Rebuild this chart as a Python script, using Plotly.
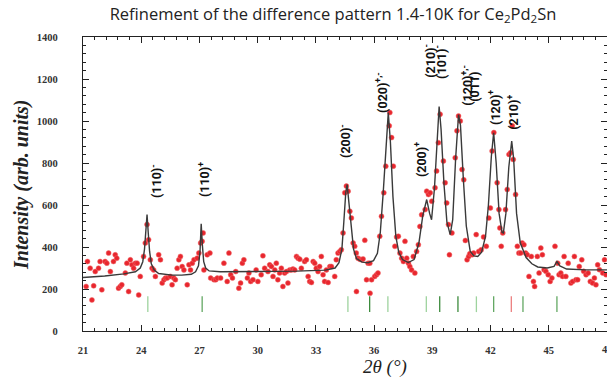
import plotly.graph_objects as go

# ---------------- data ----------------
obs_x = [21.16, 21.23, 21.37, 21.46, 21.55, 21.63, 21.80, 21.88, 21.97, 22.14, 22.23, 22.32, 22.41, 22.57,
         22.66, 22.74, 22.83, 22.92, 23.00, 23.18, 23.26, 23.35, 23.44, 23.52, 23.61, 23.70, 23.79, 23.87,
         23.95, 24.12, 24.21, 24.30, 24.38, 24.47, 24.56, 24.64, 24.73, 24.90, 24.99, 25.08, 25.17, 25.25,
         25.34, 25.50, 25.59, 25.68, 25.76, 25.85, 25.94, 26.02, 26.11, 26.20, 26.37, 26.46, 26.54, 26.63,
         26.72, 26.88, 26.97, 27.06, 27.14, 27.19, 27.23, 27.40, 27.54, 27.58, 27.75, 27.84, 27.92, 28.09,
         28.26, 28.43, 28.52, 28.61, 28.70, 28.87, 29.03, 29.12, 29.21, 29.29, 29.47, 29.55, 29.64,
         29.76, 29.92, 30.01, 30.18, 30.27, 30.36, 30.53, 30.62, 30.71, 30.79, 30.88, 30.96, 31.04, 31.13,
         31.22, 31.30, 31.39, 31.48, 31.56, 31.65, 31.74, 31.82, 31.91, 32.00, 32.08, 32.17, 32.25, 32.42,
         32.51, 32.60, 32.68, 32.77, 32.86, 32.94, 33.02, 33.11, 33.19, 33.28, 33.37, 33.45, 33.54, 33.63,
         33.72, 33.80, 33.97, 34.05, 34.14, 34.23, 34.31, 34.40, 34.49, 34.57, 34.66, 34.75, 34.83, 34.92,
         35.00, 35.08, 35.09, 35.17, 35.26, 35.35, 35.43, 35.52, 35.61, 35.69, 35.78, 35.79, 35.87, 36.03,
         36.12, 36.20, 36.29, 36.38, 36.50, 36.60, 36.78, 36.81, 36.90, 36.99, 37.07, 37.16, 37.25, 37.33,
         37.42, 37.51, 37.59, 37.68, 37.77, 37.84, 37.93, 38.02, 38.10, 38.19, 38.28, 38.36, 38.45, 38.63,
         38.71, 38.80, 38.89, 38.97, 39.14, 39.22, 39.31, 39.40, 39.57, 39.66, 39.74, 39.83, 39.88, 40.01,
         40.18, 40.27, 40.35, 40.44, 40.53, 40.62, 40.70, 40.79, 40.87, 40.93, 41.05, 41.13, 41.26, 41.39,
         41.52, 41.64, 41.78, 41.91, 41.99, 42.08, 42.17, 42.34, 42.43, 42.48, 42.55, 42.63, 42.77, 42.86,
         42.95, 43.03, 43.12, 43.17, 43.29, 43.38, 43.46, 43.55, 43.63, 43.72, 43.81, 43.89, 43.98, 44.10,
         44.21, 44.27, 44.41, 44.50, 44.59, 44.67, 44.76, 44.85, 44.97, 45.07, 45.16, 45.32, 45.46, 45.53,
         45.62, 45.71, 45.79, 45.88, 46.00, 46.14, 46.23, 46.32, 46.40, 46.49, 46.57, 46.70, 46.80, 46.92,
         47.03, 47.14, 47.26, 47.35, 47.43, 47.52, 47.61, 47.78, 47.87, 47.95]
obs_y = [212, 331, 299, 148, 215, 283, 299, 331, 196, 331, 323, 371, 283, 331,
         363, 347, 204, 212, 220, 276, 323, 188, 339, 315, 299, 323, 323, 172,
         260, 355, 419, 507, 435, 339, 299, 291, 260, 363, 339, 228, 244, 252,
         252, 260, 220, 252, 244, 299, 339, 355, 307, 291, 220, 315, 291, 323,
         339, 347, 371, 419, 427, 467, 291, 363, 371, 252, 244, 244, 252, 252,
         323, 236, 371, 268, 252, 283, 204, 228, 323, 339, 252, 276, 236,
         244, 291, 236, 268, 358, 299, 283, 315, 307, 260, 291, 323, 244, 276,
         299, 212, 276, 283, 228, 291, 291, 295, 291, 355, 347, 342, 299, 331,
         339, 260, 236, 231, 331, 323, 299, 283, 307, 355, 268, 236, 291, 231,
         307, 307, 260, 339, 371, 379, 387, 467, 658, 690, 666, 570, 538, 419,
         403, 371, 188, 347, 342, 339, 343, 432, 244, 323, 323, 180, 244, 260,
         268, 276, 451, 546, 658, 785, 977, 1040, 921, 785, 403, 448, 451, 371,
         347, 331, 427, 347, 323, 307, 291, 355, 276, 379, 411, 498, 554, 578,
         666, 650, 658, 618, 682, 762, 897, 1032, 809, 706, 610, 507, 363, 467,
         825, 953, 1024, 1000, 769, 720, 431, 339, 355, 368, 363, 371, 459, 379,
         387, 448, 403, 538, 586, 857, 945, 706, 578, 491, 403, 467, 578, 674,
         841, 849, 977, 817, 650, 403, 371, 371, 419, 411, 371, 363, 260, 355,
         236, 212, 355, 276, 395, 363, 292, 284, 268, 236, 252, 403, 323, 268,
         276, 260, 355, 260, 323, 228, 236, 355, 244, 244, 307, 339, 284, 268,
         276, 236, 228, 252, 220, 315, 292, 276, 339, 268]

calc_x = [21.0, 22.12, 23.11, 23.70, 23.95, 24.08, 24.17, 24.24, 24.30, 24.36, 24.43, 24.52, 24.67, 24.90,
          25.59, 26.09, 26.58, 26.80, 26.95, 27.03, 27.09, 27.15, 27.22, 27.32, 27.50, 28.07, 30.03, 32.01,
          33.49, 33.99, 34.19, 34.34, 34.44, 34.54, 34.61, 34.69, 34.79, 34.94, 35.09, 35.38, 35.68, 35.97,
          36.17, 36.32, 36.47, 36.62, 36.73, 36.84, 36.97, 37.12, 37.27, 37.46, 37.76, 38.06, 38.31, 38.51,
          38.71, 38.86, 38.96, 39.11, 39.25, 39.35, 39.45, 39.60, 39.75, 39.92, 40.05, 40.20, 40.35, 40.45,
          40.60, 40.75, 40.95, 41.14, 41.34, 41.54, 41.74, 41.89, 42.04, 42.16, 42.29, 42.44, 42.59, 42.66,
          42.79, 42.94, 43.09, 43.19, 43.34, 43.53, 43.83, 44.13, 44.43, 44.92, 45.27, 45.42, 45.57, 45.92,
          46.91, 48.0]
calc_y = [255, 262, 272, 282, 300, 330, 390, 470, 554, 470, 380, 320, 290, 274,
          266, 266, 270, 282, 310, 380, 510, 410, 330, 300, 286, 282, 283, 285,
          290, 300, 325, 390, 520, 660, 697, 620, 500, 390, 345, 328, 325, 335,
          370, 470, 660, 900, 1040, 900, 640, 450, 375, 340, 326, 340, 420, 550,
          626, 560, 530, 680, 950, 1069, 960, 700, 520, 459, 530, 820, 1030, 980,
          720, 500, 380, 358, 355, 375, 450, 600, 830, 944, 800, 560, 470, 467,
          560, 780, 904, 820, 560, 420, 350, 320, 305, 300, 308, 331, 310, 295,
          291, 291]

refl_pos = [24.34, 27.14, 34.65, 35.77, 36.71, 38.69, 39.38, 40.32, 41.27, 42.16, 43.07, 43.67, 45.42]
refl_kind = ["light", "mid", "light", "dark", "light", "light", "dark", "dark", "light", "mid", "red", "mid", "mid"]
refl_low, refl_high = 90, 165

label_text = ["(110)<sup>-</sup>", "(110)<sup>+</sup>", "(200)<sup>-</sup>", "(020)<sup>+,-</sup>",
              "(200)<sup>+</sup>", "(210)<sup>-</sup>", "(101)<sup>-</sup>", "(120)<sup>+,-</sup>",
              "(011)", "(120)<sup>+</sup>", "(210)<sup>+</sup>"]
label_x = [24.79, 27.21, 34.53, 36.39, 38.40, 38.86, 39.43, 40.77, 41.18, 42.21, 43.14]
label_y = [712, 721, 903, 1137, 817, 1285, 1280, 1171, 1161, 1065, 1042]

x_ticks = [21, 24, 27, 30, 33, 36, 39, 42, 45, 48]
y_ticks = [0, 200, 400, 600, 800, 1000, 1200, 1400]

refl_colors = {"light": "#9ed39e", "mid": "#63a863", "dark": "#3d8b3d", "red": "#ec7f7f"}

# ---------------- figure ----------------
fig = go.Figure()

for kind, col in refl_colors.items():
    xs, ys = [], []
    for p, k in zip(refl_pos, refl_kind):
        if k == kind:
            xs += [p, p, None]
            ys += [refl_low, refl_high, None]
    fig.add_trace(go.Scatter(x=xs, y=ys, mode="lines", line=dict(color=col, width=1.3),
                             hoverinfo="skip", showlegend=False))

fig.add_trace(go.Scatter(x=obs_x, y=obs_y, mode="markers",
                         marker=dict(color="#e8262e", size=5, line=dict(color="#f06a6a", width=0.5)),
                         showlegend=False))
fig.add_trace(go.Scatter(x=calc_x, y=calc_y, mode="lines",
                         line=dict(color="#3a3a3a", width=1.4), showlegend=False))

for t, x, y in zip(label_text, label_x, label_y):
    fig.add_annotation(x=x, y=y, xref="x", yref="y", text=t, showarrow=False, textangle=-90,
                       xanchor="center", yanchor="middle",
                       font=dict(family="Roboto", size=12.5, color="#111111", weight="bold"))

tickfont = dict(family="Liberation Serif", size=10.5, color="#333333", weight="bold")

fig.update_xaxes(range=[21, 48], tickvals=x_ticks, ticktext=[str(v) for v in x_ticks],
                 ticks="inside", ticklen=6, tickwidth=1.2, tickcolor="#222",
                 showline=True, linecolor="#222", linewidth=1.2, mirror="allticks",
                 showgrid=False, zeroline=False, tickfont=tickfont, ticklabelstandoff=9,
                 minor=dict(ticks="inside", ticklen=3, dtick=0.6, tick0=21, tickcolor="#222", showgrid=False))
fig.update_yaxes(range=[0, 1400], tickvals=y_ticks, ticktext=[str(v) for v in y_ticks],
                 ticks="inside", ticklen=6, tickwidth=1.2, tickcolor="#222",
                 showline=True, linecolor="#222", linewidth=1.2, mirror="allticks",
                 showgrid=False, zeroline=False, tickfont=tickfont, ticklabelstandoff=22,
                 minor=dict(ticks="inside", ticklen=3, dtick=40, tick0=0, tickcolor="#222", showgrid=False))

# last x tick label sits on the window edge
fig.add_annotation(x=48, y=-0.062, xref="x", yref="paper", text="48", showarrow=False,
                   xanchor="center", yanchor="middle", font=tickfont)

fig.add_annotation(x=-0.1164, y=0.4966, xref="paper", yref="paper", showarrow=False, textangle=-90,
                   text="<b><i>Intensity (arb. units)</i></b>", xanchor="center", yanchor="middle",
                   font=dict(family="Liberation Serif", size=20, color="#222"))
fig.add_annotation(x=0.576, y=-0.1224, xref="paper", yref="paper", showarrow=False,
                   text="<i>2θ (°)</i>", xanchor="center", yanchor="middle",
                   font=dict(family="Liberation Serif", size=19, color="#222"))

fig.update_layout(
    width=607, height=378,
    margin=dict(l=83, r=0, t=37, b=47),
    paper_bgcolor="white", plot_bgcolor="white",
    title=dict(text="Refinement of the difference pattern 1.4-10K for Ce<sub>2</sub>Pd<sub>2</sub>Sn",
               x=0.5486, xref="container", y=0.963, yref="container", xanchor="center", yanchor="middle",
               font=dict(family="Open Sans", size=16.5, color="#222")),
)

fig.write_html("out.html")
